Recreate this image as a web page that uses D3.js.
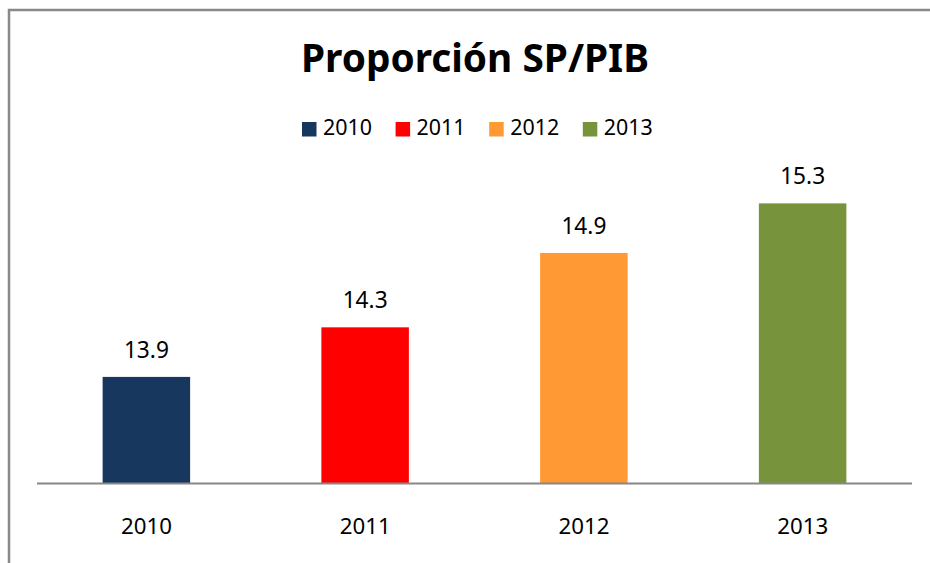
<!DOCTYPE html>
<html>
<head>
<meta charset="utf-8">
<script src="https://cdn.jsdelivr.net/npm/d3@7"></script>
<style>
  html, body { margin: 0; padding: 0; background: #fff; }
  svg { display: block; }
  text { font-family: "Noto Sans", "Open Sans", sans-serif; fill: #000; }
</style>
</head>
<body>
<svg id="chart" width="930" height="563"></svg>
<script>
const title = "Proporción SP/PIB";
const categories = ["2010", "2011", "2012", "2013"];
const values = [13.9, 14.3, 14.9, 15.3];
const colors = ["#17375E", "#FF0000", "#FF9933", "#77933C"];
const valueLabels = ["13.9", "14.3", "14.9", "15.3"];
const yDomain = [13.04, 15.5];

const svg = d3.select("#chart");

function fitWidth(sel, target) {
  sel.each(function () {
    const fs = parseFloat(this.getAttribute("font-size"));
    const w = this.getComputedTextLength();
    if (w > 0) this.setAttribute("font-size", (fs * target / w).toFixed(2));
  });
}

// outer border (left and top visible)
svg.append("path")
  .attr("d", "M9,563 L9,10 L930,10")
  .attr("fill", "none")
  .attr("stroke", "#898989")
  .attr("stroke-width", 2.5);

const x = d3.scaleBand().domain(categories).range([37, 912])
  .paddingInner(0.6).paddingOuter(0.3);
const y = d3.scaleLinear().domain(yDomain).range([483.5, 178.6]);

// title
const t = svg.append("text")
  .attr("x", 475).attr("y", 72)
  .attr("text-anchor", "middle")
  .attr("font-weight", "bold")
  .attr("font-size", 38)
  .text(title);
fitWidth(t, 348);

// legend
const legend = svg.append("g");
const items = legend.selectAll("g").data(categories).join("g")
  .attr("transform", (d, i) => `translate(${302 + i * 93.6},0)`);
items.append("rect")
  .attr("x", 0).attr("y", 122).attr("width", 14.5).attr("height", 14.5)
  .attr("fill", (d, i) => colors[i]);
const lt = items.append("text")
  .attr("x", 21).attr("y", 135)
  .attr("font-size", 21)
  .text(d => d);
fitWidth(lt, 49);

// bars
svg.append("g").selectAll("rect").data(categories).join("rect")
  .attr("x", d => x(d))
  .attr("width", x.bandwidth())
  .attr("y", (d, i) => y(values[i]))
  .attr("height", (d, i) => y(yDomain[0]) - y(values[i]))
  .attr("fill", (d, i) => colors[i]);

// data labels
const dl = svg.append("g").selectAll("text").data(categories).join("text")
  .attr("x", d => x(d) + x.bandwidth() / 2)
  .attr("y", (d, i) => y(values[i]) - 19)
  .attr("text-anchor", "middle")
  .attr("font-size", 22)
  .text((d, i) => valueLabels[i]);
fitWidth(dl, 45);

// x axis
const axis = svg.append("g")
  .attr("transform", `translate(0,${y(yDomain[0])})`)
  .call(d3.axisBottom(x).tickSize(0).tickPadding(0));
axis.select(".domain")
  .attr("stroke", "#878787").attr("stroke-width", 2.2)
  .attr("d", "M37,0H912");
axis.selectAll(".tick text")
  .attr("dy", null)
  .attr("y", 50.5)
  .attr("font-size", 22)
  .attr("font-family", null)
  .attr("fill", "#000");
fitWidth(axis.selectAll(".tick text"), 51);
axis.attr("font-family", null).attr("font-size", null);
</script>
</body>
</html>
